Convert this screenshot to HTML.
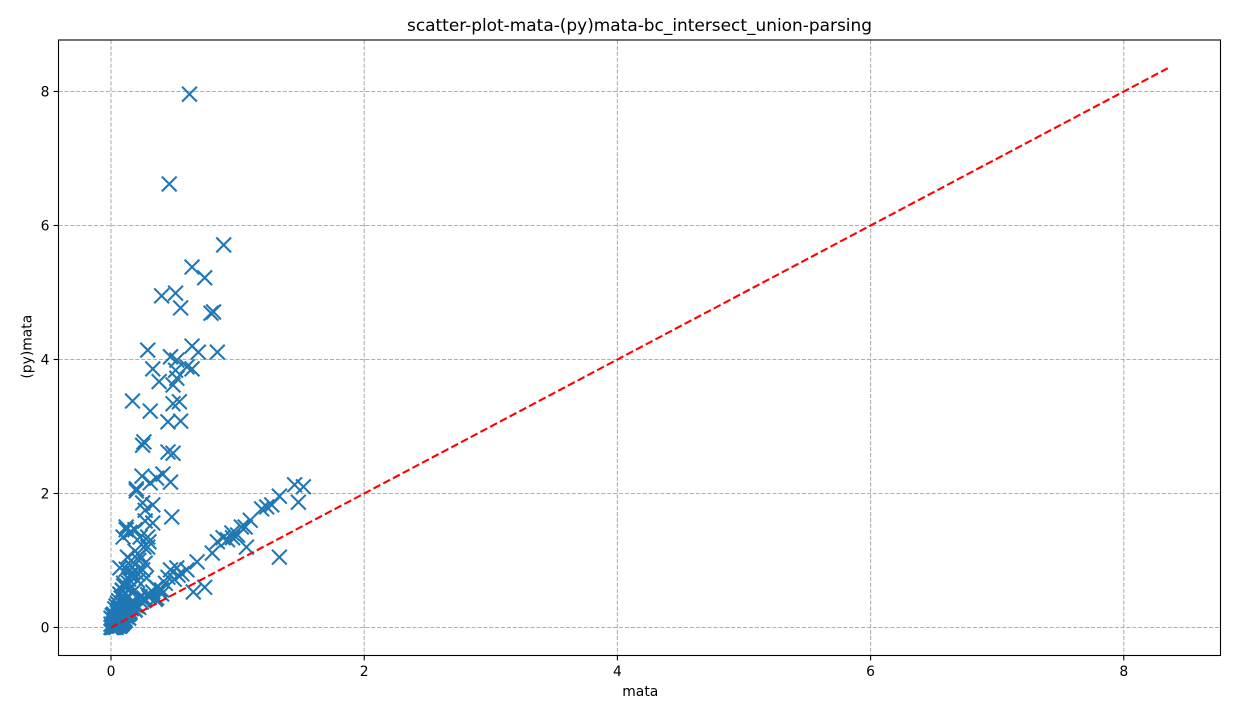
<!DOCTYPE html>
<html>
<head>
<meta charset="utf-8">
<style>
html,body{margin:0;padding:0;background:#fff;width:1240px;height:719px;overflow:hidden}
svg{display:block}
text{font-family:"DejaVu Sans",sans-serif;fill:#000}
</style>
</head>
<body>
<svg id="chart" xmlns="http://www.w3.org/2000/svg" width="1240" height="719" viewBox="0 0 1240 719"></svg>
<script>
const mataValues = [
.62,.46,.89,.64,.74,.40,.51,.55,.79,.81,.29,.84,.69,.64,.47,.52,.33,.60,.51,.64,.38,.49,.52,.17,.31,.49,.54,.45,.55,.26,.25,.45,.49,
.245,.41,.36,.31,.47,.20,.20,.48,.25,.33,.12,.19,.095,.27,.33,.23,.30,.13,.23,.27,.07,.17,.25,.15,.28,
.52,.47,.68,.60,.53,.45,.36,.74,.65,.43,.40,.33,.23,.29,.17,
1.45,1.52,1.48,1.33,1.27,1.23,1.19,1.10,1.06,1.03,1.07,1.33,.955,.96,.885,.84,.80,1.0,.92,
.14,.10,.16,.12,.19,.09,.15,.21,.11,.07,.13,.18,.08,.12,.06,.10,.15,.05,.09,.13,.17,.07,.11,.04,.08,.12,.16,.06,.10,.03,.07,.11,.15,.05,.09,.13,.02,.06,.10,.14,.04,.08,.12,.01,.05,.09,.03,.07,.11,.0,.04,.08,.02,.06,.10,.01,.05,.09,.03,.07,.0,.04,.08,.02,.06,.01,.05,.03,.07,.0,.04,.02,.06,.01,.05,.10,.13,.16,.20,.24,.19,.22,.26,.30,.35,.12,.15,.04,.07,.09,.02,.05,.08,.11,.14,
.12,.15,.19,.16,.10,.09,.14,.12,.17,.21,.22,.26,.29,.29,.27,.36,.31,.26,.22,.19,.40,.38,.56,.50
];
const pymataValues = [
7.96,6.62,5.71,5.38,5.22,4.95,4.99,4.77,4.69,4.71,4.14,4.11,4.11,4.20,4.04,3.99,3.86,3.89,3.84,3.86,3.67,3.62,3.72,3.38,3.23,3.34,3.37,3.07,3.08,2.77,2.72,2.62,2.60,
2.26,2.29,2.23,2.16,2.17,2.07,2.04,1.65,1.86,1.83,1.46,1.46,1.35,1.59,1.56,1.35,1.28,1.05,1.07,.96,.89,.90,.86,.78,.74,
.89,.86,.98,.86,.78,.75,.60,.60,.53,.66,.56,.53,.46,.49,.37,
2.13,2.10,1.87,1.96,1.83,1.80,1.77,1.60,1.50,1.50,1.20,1.05,1.41,1.34,1.34,1.28,1.11,1.38,1.31,
.72,.66,.80,.62,.74,.56,.58,.70,.52,.50,.46,.54,.44,.42,.40,.38,.36,.36,.34,.32,.35,.30,.30,.32,.28,.26,.28,.26,.24,.28,.22,.22,.24,.22,.20,.20,.20,.18,.18,.20,.16,.16,.16,.18,.14,.14,.12,.12,.12,.14,.10,.10,.10,.08,.08,.12,.08,.06,.06,.10,.05,.04,.04,.06,.02,.02,.03,.01,.02,.00,.0,.0,.02,.0,.03,.24,.20,.30,.32,.38,.26,.42,.44,.45,.42,.16,.22,.14,.09,.12,.05,.03,.07,.10,.14,
1.5,1.42,1.14,1.0,.62,.55,.66,.87,.82,.80,1.0,1.2,1.2,1.35,1.75,.44,.48,.40,.30,.27,.50,.56,.80,.72
];
const xTickValues = [0,2,4,6,8];
const yTickValues = [0,2,4,6,8];
const refLineValues = [0,8.35];
const chartTitle = "scatter-plot-mata-(py)mata-bc_intersect_union-parsing";
const xLabel = "mata";
const yLabel = "(py)mata";

const NS = "http://www.w3.org/2000/svg";
const svg = document.getElementById("chart");
const box = {l:58.5,r:1220.5,t:40,b:655.5};
const xScale = v => 111 + v * 126.6;
const yScale = v => 627.5 - v * 67;

function make(tag, attrs, parent, text){
  const e = document.createElementNS(NS, tag);
  for (const k in attrs) e.setAttribute(k, attrs[k]);
  if (text !== undefined) e.textContent = text;
  (parent || svg).appendChild(e);
  return e;
}

const gridGroup = make("g", {stroke:"#b0b0b0","stroke-width":1.1,"stroke-dasharray":"4.1 1.8",fill:"none"});


xTickValues.forEach(v => {
  const line = make("line", {x1:xScale(v),x2:xScale(v),y1:box.t,y2:box.b}, gridGroup);
  
  
});
yTickValues.forEach(v => {
  const line = make("line", {x1:box.l,x2:box.r,y1:yScale(v),y2:yScale(v)}, gridGroup);
  
  
});

const pointsGroup = make("g", {stroke:"#1f77b4","stroke-width":2.08,fill:"none"});


const arm = 7.4;
mataValues.forEach((v, i) => {
  const cx = xScale(v), cy = yScale(pymataValues[i]);
  const p = make("path", {d:`M${cx-arm} ${cy-arm}L${cx+arm} ${cy+arm}M${cx-arm} ${cy+arm}L${cx+arm} ${cy-arm}`}, pointsGroup);
  
  
});

const refLine = make("line", {x1:xScale(refLineValues[0]),y1:yScale(refLineValues[0]),x2:xScale(refLineValues[1]),y2:yScale(refLineValues[1]),stroke:"#ff0000","stroke-width":2.08,"stroke-dasharray":"7.7 3.3"});



const frame = make("rect", {x:box.l,y:box.t,width:box.r-box.l,height:box.b-box.t,fill:"none",stroke:"#000","stroke-width":1.1});



xTickValues.forEach(v => {
  const tick = make("line", {x1:xScale(v),x2:xScale(v),y1:box.b,y2:box.b+4.9,stroke:"#000","stroke-width":1.1});
  
  
  const label = make("text", {x:xScale(v),y:676,"text-anchor":"middle","font-size":13.9}, svg, String(v));
  
  
});
yTickValues.forEach(v => {
  const tick = make("line", {x1:box.l-4.9,x2:box.l,y1:yScale(v),y2:yScale(v),stroke:"#000","stroke-width":1.1});
  
  
  const label = make("text", {x:49.5,y:yScale(v)+5,"text-anchor":"end","font-size":13.9}, svg, String(v));
  
  
});

const titleEl = make("text", {x:639.5,y:31,"text-anchor":"middle","font-size":16.95}, svg, chartTitle);


const xLabelEl = make("text", {x:640.3,y:696,"text-anchor":"middle","font-size":13.9}, svg, xLabel);


const yLabelEl = make("text", {x:0,y:0,"text-anchor":"middle","font-size":13.9,transform:"translate(31.5 346.7) rotate(-90)"}, svg, yLabel);


</script>
</body>
</html>
